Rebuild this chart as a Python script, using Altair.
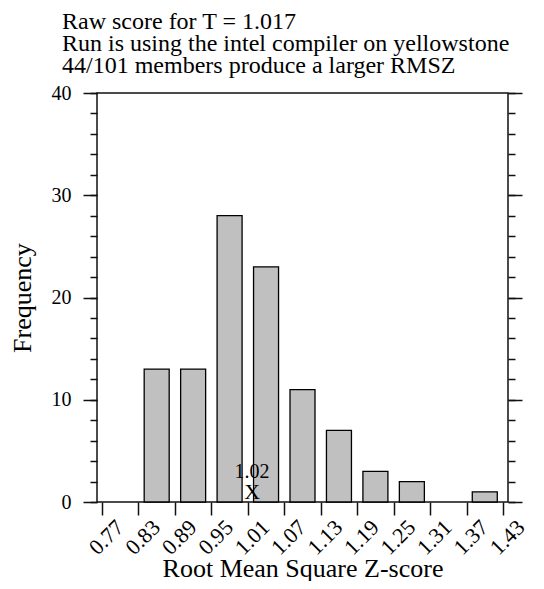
import altair as alt
import pandas as pd

# ---- data ----
bin_lo = [0.77, 0.83, 0.89, 0.95, 1.01, 1.07, 1.13, 1.19, 1.25, 1.31, 1.37]
bin_hi = [0.83, 0.89, 0.95, 1.01, 1.07, 1.13, 1.19, 1.25, 1.31, 1.37, 1.43]
counts = [0, 13, 13, 28, 23, 11, 7, 3, 2, 0, 1]
x_ticks = [0.77, 0.83, 0.89, 0.95, 1.01, 1.07, 1.13, 1.19, 1.25, 1.31, 1.37, 1.43]
y_major = [0, 10, 20, 30, 40]
y_minor = [0, 2, 4, 6, 8, 10, 12, 14, 16, 18, 20, 22, 24, 26, 28, 30, 32, 34, 36, 38, 40]
score_x = [1.017]
score_y = [1]
score_label = ["1.02"]
title_lines = [
    "Raw score for T = 1.017",
    "Run is using the intel compiler on yellowstone",
    "44/101 members produce a larger RMSZ",
]

FONT = "Liberation Serif"

df = pd.DataFrame({"lo": bin_lo, "hi": bin_hi, "count": counts})
xscale = alt.Scale(domain=[0.77, 1.43], nice=False, zero=False)
yscale = alt.Scale(domain=[0, 40], nice=False)

x_axis = alt.Axis(
    values=x_ticks,
    format=".2f",
    labelAngle=315,
    labelAlign="center",
    labelBaseline="middle",
    labelPadding=22,
    labelOffset=4,
    labelFontSize=22,
    labelFlush=False,
    labelOverlap=False,
    tickSize=13,
    title="Root Mean Square Z-score",
    titleFontSize=26,
    titleBaseline="alphabetic",
    titleY=74,
)

base = (
    alt.Chart(df)
    .transform_filter("datum.count > 0")
    .transform_calculate(mid="(datum.lo + datum.hi) / 2")
)

bars = base.mark_bar(width=25, fill="#c0c0c0", stroke="black", strokeWidth=1.3).encode(
    x=alt.X("mid:Q", scale=xscale, axis=x_axis),
    y=alt.Y(
        "count:Q",
        scale=yscale,
        axis=alt.Axis(
            orient="left",
            values=y_major,
            tickSize=14,
            labelPadding=12,
            labelFontSize=20,
            labelFlush=False,
            title="Frequency",
            titleFontSize=26,
            titlePadding=16,
        ),
    ),
)


def tick_layer(orient, values, size):
    return base.mark_point(opacity=0).encode(
        x=alt.X("mid:Q", scale=xscale, axis=x_axis),
        y=alt.Y(
            "count:Q",
            scale=yscale,
            axis=alt.Axis(
                orient=orient,
                values=values,
                tickSize=size,
                labels=False,
                title=None,
            ),
        ),
    )


left_minor = tick_layer("left", y_minor, 7)
right_major = tick_layer("right", y_major, 14)
right_minor = tick_layer("right", y_minor, 7)

mk = alt.Chart(pd.DataFrame({"mid": score_x, "y": score_y, "lab": score_label}))
marker = mk.mark_text(text="X", font=FONT, fontSize=22, baseline="middle", color="black").encode(
    x=alt.X("mid:Q", scale=xscale, axis=x_axis),
    y=alt.Y("y:Q", scale=yscale, axis=None),
)
label = mk.mark_text(font=FONT, fontSize=20, baseline="middle", dy=-20, color="black").encode(
    x=alt.X("mid:Q", scale=xscale, axis=x_axis),
    y=alt.Y("y:Q", scale=yscale, axis=None),
    text="lab:N",
)

chart = (
    alt.layer(bars, left_minor, right_major, right_minor, marker, label)
    .resolve_axis(y="independent")
    .properties(
        width=411,
        height=409,
        autosize=alt.AutoSizeParams(type="none"),
        padding={"left": 89, "top": 85, "right": 28, "bottom": 79},
        title=alt.TitleParams(
            text=title_lines,
            anchor="start",
            frame="group",
            dx=-35,
            font=FONT,
            fontSize=24,
            fontWeight="normal",
            lineHeight=22,
            offset=5,
            color="black",
        ),
    )
    .configure_view(stroke="#111111", strokeWidth=1.5)
    .configure_axis(
        labelFont=FONT,
        titleFont=FONT,
        labelColor="black",
        titleColor="black",
        titleFontWeight="normal",
        tickColor="#111111",
        tickWidth=1.5,
        domain=False,
        grid=False,
    )
)

chart.save("out.html", embed_options={"renderer": "svg", "actions": False})
